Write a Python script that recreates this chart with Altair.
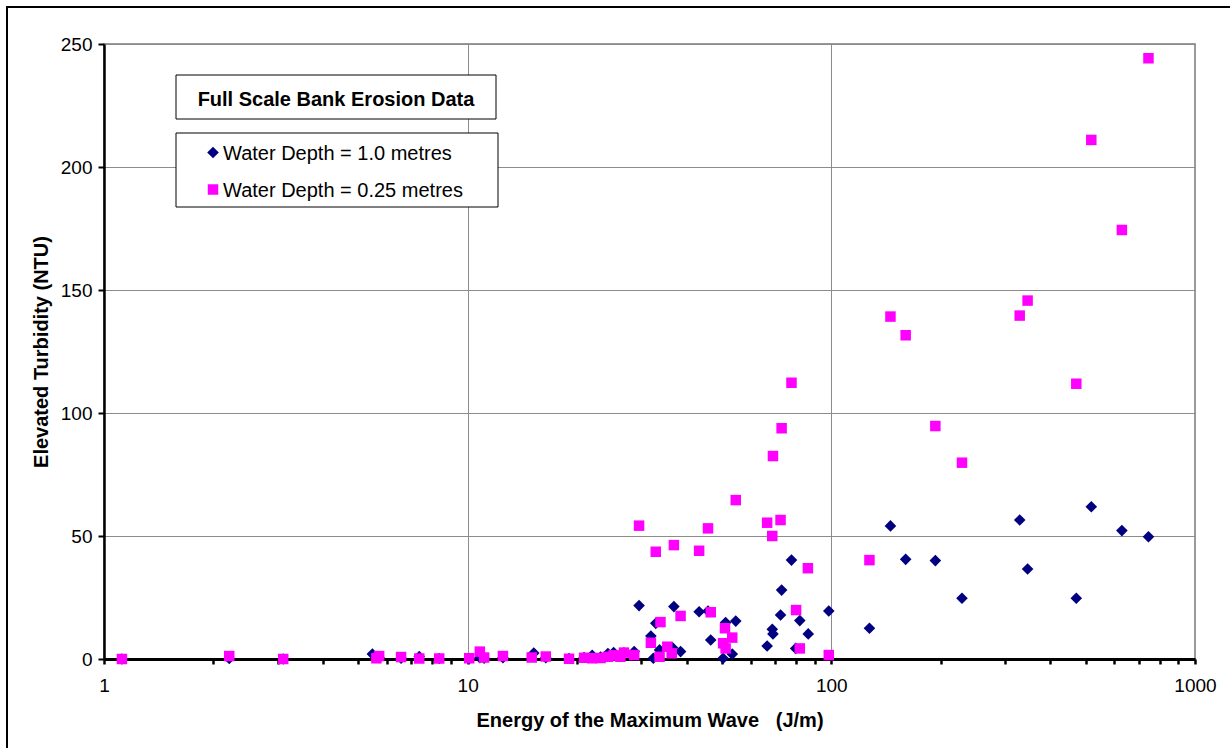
import altair as alt
import pandas as pd

FONT = "Liberation Sans"

# Full-scale bank erosion trials: wave energy (J/m) vs elevated turbidity (NTU)
energy_1m = [1.12, 2.21, 3.11, 5.47, 5.71, 6.56, 7.36, 8.35, 10.1, 10.8,
             11.1, 12.5, 15.2, 16.4, 19.0, 20.9, 22.0, 23.2, 24.3, 25.2,
             26.3, 26.9, 28.7, 29.6, 31.9, 32.4, 32.9, 33.7, 36.6, 36.9,
             38.5, 43.3, 45.8, 46.6, 50.4, 51.2, 53.4, 54.6, 66.6, 68.8,
             69.1, 72.5, 73.0, 77.7, 79.8, 81.9, 86.4, 98.4, 127.3, 145.4,
             160.1, 193.2, 228.7, 329.6, 346.5, 471.6, 518.6, 629.4, 744.8]
turbidity_1m = [0.0, 0.2, 0.0, 2.0, 0.5, 0.3, 1.0, 0.2, 0.2, 0.5,
                0.3, 0.5, 2.4, 0.5, 0.2, 0.6, 1.5, 0.8, 2.2, 2.6,
                1.0, 2.5, 3.0, 21.7, 9.3, 0.3, 14.5, 3.7, 4.6, 21.3,
                3.0, 19.2, 19.5, 7.7, 0.3, 14.8, 2.0, 15.4, 5.3, 12.1,
                10.2, 17.9, 28.0, 40.2, 4.3, 15.6, 10.2, 19.5, 12.5, 54.1,
                40.5, 40.0, 24.7, 56.5, 36.6, 24.7, 61.9, 52.2, 49.7]

energy_025m = [1.12, 2.21, 3.11, 5.61, 5.71, 6.56, 7.36, 8.35, 10.1, 10.8,
               11.1, 12.5, 15.0, 16.4, 19.0, 20.9, 22.0, 23.2, 24.3, 25.2,
               26.3, 26.9, 28.7, 29.6, 31.9, 32.9, 33.7, 33.9, 35.4, 36.4,
               36.9, 38.5, 43.3, 45.8, 46.6, 50.4, 51.0, 51.2, 53.4, 54.6,
               66.6, 68.8, 69.1, 72.5, 73.0, 77.7, 80.0, 81.9, 86.2, 98.4,
               127.3, 145.4, 160.1, 193.2, 228.7, 329.6, 346.5, 471.6, 518.6, 629.4,
               744.8]
turbidity_025m = [0.0, 1.2, 0.0, 0.3, 1.2, 0.8, 0.2, 0.2, 0.3, 3.0,
                  0.6, 1.2, 0.6, 1.0, 0.1, 0.5, 0.3, 0.4, 0.9, 1.5,
                  0.9, 2.6, 1.6, 54.2, 6.6, 43.6, 0.9, 15.0, 5.0, 2.3,
                  46.3, 17.5, 44.0, 53.1, 19.0, 6.4, 12.5, 4.3, 8.7, 64.6,
                  55.4, 50.0, 82.5, 56.5, 93.8, 112.3, 19.9, 4.3, 36.9, 1.6,
                  40.2, 139.2, 131.6, 94.7, 79.8, 139.6, 145.7, 111.9, 211.0, 174.4,
                  244.2]

series_names = ["Water Depth = 1.0 metres", "Water Depth = 0.25 metres"]
series_colors = ["#000080", "#FF00FF"]
series_shapes = ["diamond", "square"]
series_sizes = [135, 110]

x_ticks = [1, 2, 3, 4, 5, 6, 7, 8, 9,
           10, 20, 30, 40, 50, 60, 70, 80, 90,
           100, 200, 300, 400, 500, 600, 700, 800, 900, 1000]
y_ticks = [0, 50, 100, 150, 200, 250]

legend_heading = "Full Scale Bank Erosion Data"
# non-breaking spaces keep the wide gap before the unit
x_title = "Energy of the Maximum Wave\u00a0\u00a0\u00a0(J/m)"
y_title = "Elevated Turbidity (NTU)"

points = pd.DataFrame({
    "energy": energy_1m + energy_025m,
    "turbidity": turbidity_1m + turbidity_025m,
    "series": [series_names[0]] * len(energy_1m) + [series_names[1]] * len(energy_025m),
})

W, H = 1091, 615

x_axis = alt.Axis(
    values=x_ticks,
    labelExpr="indexof([1, 10, 100, 1000], datum.value) >= 0 ? format(datum.value, 'd') : ''",
    labelOverlap=False, labelFlush=False, labelBound=False,
    labelFont=FONT, labelFontSize=19, labelColor="black", labelPadding=12,
    domainColor="black", domainWidth=3,
    tickColor="black", tickWidth=2.5, tickSize=5,
    grid=True, gridColor="#8c8c8c", gridWidth=1,
    gridOpacity={"condition": {"test": "indexof([10, 100], datum.value) >= 0", "value": 1}, "value": 0},
    title=x_title, titleFont=FONT, titleFontSize=20, titleFontWeight="bold",
    titleColor="black", titleY=67, titleBaseline="alphabetic",
)

y_axis = alt.Axis(
    values=y_ticks,
    labelFont=FONT, labelFontSize=19, labelColor="black", labelPadding=6,
    domainColor="black", domainWidth=2.5,
    tickColor="black", tickWidth=2, tickSize=6,
    grid=True, gridColor="#8c8c8c", gridWidth=1,
    title=y_title, titleFont=FONT, titleFontSize=20, titleFontWeight="bold",
    titleColor="black", titleX=-57, titleBaseline="alphabetic",
)

scatter = alt.Chart(points).mark_point(filled=True, opacity=1, strokeWidth=0).encode(
    x=alt.X("energy:Q", scale=alt.Scale(type="log", domain=[1, 1000], nice=False), axis=x_axis),
    y=alt.Y("turbidity:Q", scale=alt.Scale(domain=[0, 250], nice=False), axis=y_axis),
    color=alt.Color("series:N", scale=alt.Scale(domain=series_names, range=series_colors), legend=None),
    shape=alt.Shape("series:N", scale=alt.Scale(domain=series_names, range=series_shapes), legend=None),
    size=alt.Size("series:N", scale=alt.Scale(domain=series_names, range=series_sizes), legend=None),
)

one = pd.DataFrame({"k": [0]})

# outer chart frame
frame = alt.Chart(one).mark_rect(fill="white", fillOpacity=0, stroke="black", strokeWidth=2).encode(
    x=alt.value(-97), x2=alt.value(1131), y=alt.value(-37), y2=alt.value(709)
)

# heading box
heading_box = alt.Chart(one).mark_rect(fill="white", stroke="black", strokeWidth=1).encode(
    x=alt.value(72), x2=alt.value(392), y=alt.value(31), y2=alt.value(75)
)
heading_text = alt.Chart(one).mark_text(
    text=legend_heading, font=FONT, fontSize=20, fontWeight="bold",
    align="center", baseline="alphabetic", color="black"
).encode(x=alt.value(232), y=alt.value(62))

# series key box
key_box = alt.Chart(one).mark_rect(fill="white", stroke="black", strokeWidth=1).encode(
    x=alt.value(72), x2=alt.value(394), y=alt.value(89), y2=alt.value(163)
)

key_layers = []
for name, colr, shp, sz, sym_y, txt_y in zip(series_names, series_colors, series_shapes,
                                             series_sizes, [108.5, 145.5], [115.5, 152.5]):
    key_layers.append(
        alt.Chart(one).mark_point(filled=True, opacity=1, size=sz, strokeWidth=0,
                                  shape=shp, color=colr)
        .encode(x=alt.value(109), y=alt.value(sym_y))
    )
    key_layers.append(
        alt.Chart(one).mark_text(text=name, font=FONT, fontSize=20, align="left",
                                 baseline="alphabetic", color="black")
        .encode(x=alt.value(119), y=alt.value(txt_y))
    )

chart = alt.layer(
    frame, scatter, heading_box, heading_text, key_box, *key_layers
).properties(
    width=W, height=H,
    autosize=alt.AutoSizeParams(type="none"),
    padding={"left": 104, "top": 44, "right": 35, "bottom": 89},
    background="white",
).configure_view(stroke="#7a7a7a", strokeWidth=1.5)

chart.save("out.html", embed_options={"renderer": "svg", "actions": False})
